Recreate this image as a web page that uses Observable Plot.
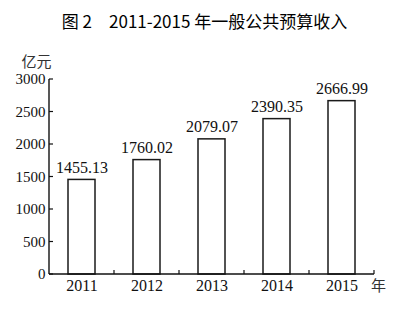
<!DOCTYPE html>
<html><head><meta charset="utf-8">
<script src="https://cdn.jsdelivr.net/npm/d3@7"></script>
<script src="https://cdn.jsdelivr.net/npm/@observablehq/plot@0.6"></script>
<style>
body{margin:0;background:#fff;width:403px;height:311px;overflow:hidden}
#title{height:40px;line-height:41px;text-align:center;font-family:"Noto Sans CJK SC";font-size:17px;font-weight:400;color:#000;padding-left:6px;box-sizing:border-box;white-space:pre}
#chart svg{display:block}
</style></head><body>
<div id="title"></div><div id="chart"></div>
<script>
const titleText = "图 2　2011-2015 年一般公共预算收入";
const years = ["2011", "2012", "2013", "2014", "2015"];
const values = [1455.13, 1760.02, 2079.07, 2390.35, 2666.99];
const yTicks = [0, 500, 1000, 1500, 2000, 2500, 3000];
const yUnit = "亿元";
const xUnit = "年";

const data = years.map((year, i) => ({year, value: values[i]}));
document.getElementById("title").textContent = titleText;

const serif = "Liberation Serif, Times New Roman, serif";
const cjk = "Noto Sans CJK SC";

function axisLines(index, scales, values, dims) {
  const x = scales.x, y = scales.y;
  const bw = x.bandwidth();
  const step = x(years[1]) - x(years[0]);
  const y0 = y(0);
  const left = dims.marginLeft;
  const g = d3.create("svg:g").attr("stroke", "#111").attr("fill", "none");
  g.append("line").attr("x1", left).attr("x2", left).attr("y1", y(yTicks[yTicks.length - 1])).attr("y2", y0).attr("stroke-width", 1.4);
  g.append("line").attr("x1", left).attr("x2", dims.width - dims.marginRight).attr("y1", y0).attr("y2", y0).attr("stroke-width", 1.4);
  yTicks.forEach(t => {
    g.append("line").attr("x1", left).attr("x2", left + 4).attr("y1", y(t)).attr("y2", y(t)).attr("stroke-width", 1.2);
  });
  years.forEach(d => {
    const xr = x(d) + bw / 2 + step / 2;
    g.append("line").attr("x1", xr).attr("x2", xr).attr("y1", y0).attr("y2", y0 - 4).attr("stroke-width", 1.2);
  });
  return g.node();
}

const chart = Plot.plot({
  width: 403,
  height: 271,
  marginTop: 39,
  marginBottom: 37,
  marginLeft: 49,
  marginRight: 29,
  style: {fontFamily: serif, fontSize: "15px", color: "#111", background: "#fff"},
  x: {domain: years, paddingInner: 0.58, paddingOuter: 0.29, axis: null},
  y: {domain: [0, 3000], axis: null},
  marks: [
    Plot.barY(data, {x: "year", y: "value", fill: "white", stroke: "#1a1a1a", strokeWidth: 1.5}),
    Plot.axisY({ticks: yTicks, tickFormat: d => String(d), tickSize: 0, tickPadding: 4, label: null, fontSize: 15}),
    Plot.text(data, {x: "year", y: "value", text: d => d.value.toFixed(2), dy: -12, fontSize: 16, fill: "#111"}),
    Plot.text(data, {x: "year", frameAnchor: "bottom", dy: 16, text: "year", fontSize: 16, fill: "#111"}),
    Plot.text([xUnit], {frameAnchor: "bottom-right", textAnchor: "middle", dx: 4, dy: 16, text: d => d, fontFamily: cjk, fontSize: 15, fill: "#333"}),
    Plot.text([yUnit], {frameAnchor: "top-left", textAnchor: "middle", dx: -13, dy: -23, text: d => d, fontFamily: cjk, fontSize: 15, fill: "#333"}),
    axisLines
  ]
});
document.getElementById("chart").appendChild(chart);
</script>
</body></html>
